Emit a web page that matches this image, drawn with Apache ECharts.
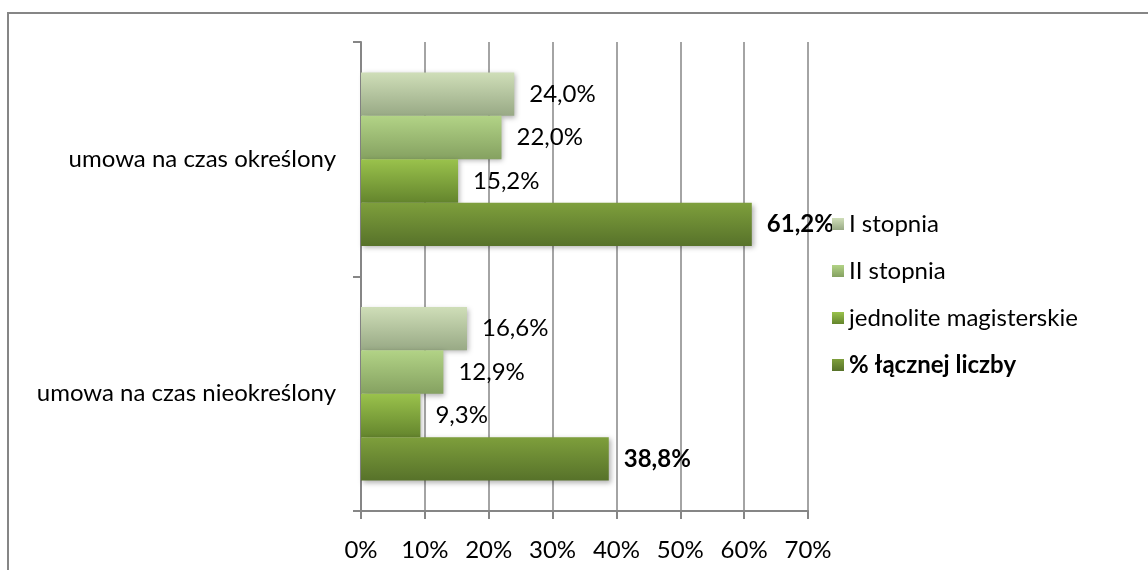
<!DOCTYPE html>
<html><head><meta charset="utf-8">
<script src="https://cdn.jsdelivr.net/npm/echarts@6/dist/echarts.min.js"></script>
<style>html,body{margin:0;padding:0;background:#fff}#c{width:1148px;height:570px}</style>
</head><body><div id="c"></div>
<script>
const categories = ['umowa na czas określony', 'umowa na czas nieokreślony'];
const seriesNames = ['I stopnia', 'II stopnia', 'jednolite magisterskie', '% łącznej liczby'];
const iStopnia = [24.0, 16.6];
const iiStopnia = [22.0, 12.9];
const jednolite = [15.2, 9.3];
const lacznie = [61.2, 38.8];
const xTicks = [0, 10, 20, 30, 40, 50, 60, 70];

const values = [iStopnia, iiStopnia, jednolite, lacznie];
const grads = [
  ['#cfdeb8', '#98a985'],
  ['#b2d386', '#85a161'],
  ['#9ac24c', '#64852d'],
  ['#7e9f3c', '#57722a']
];
const FONT = 'Lato';
const FS = 24;
const chart = echarts.init(document.getElementById('c'));
chart.setOption({
  animation: false,
  textStyle: {fontFamily: FONT},
  graphic: [{type: 'rect', shape: {x: 8, y: 13, width: 1200, height: 600}, style: {fill: 'none', stroke: '#868686', lineWidth: 2}, silent: true}],
  grid: {left: 361, right: 340, top: 42, bottom: 59},
  legend: {
    orient: 'vertical', left: 832, top: 212, padding: 0, itemGap: 23, itemWidth: 12, itemHeight: 12,
    icon: 'rect',
    data: seriesNames,
    textStyle: {fontSize: FS, lineHeight: 24, color: '#000', fontFamily: FONT,
      rich: {b: {fontWeight: 'bold', fontSize: FS, lineHeight: 24, fontFamily: FONT}}},
    formatter: n => n === '% łącznej liczby' ? '{b|' + n + '}' : n
  },
  xAxis: {
    type: 'value', min: 0, max: 70, interval: 10,
    axisLine: {show: true, lineStyle: {color: '#868686', width: 2}},
    axisTick: {show: true, length: 8, lineStyle: {color: '#868686', width: 2}},
    splitLine: {show: true, lineStyle: {color: '#868686', width: 1.5}},
    axisLabel: {fontSize: FS, color: '#000', margin: 27, formatter: v => v + '%', fontFamily: FONT}
  },
  yAxis: {
    type: 'category', data: categories, inverse: true,
    axisLine: {lineStyle: {color: '#868686', width: 2}},
    axisTick: {show: true, length: 8, lineStyle: {color: '#868686', width: 2}},
    axisLabel: {fontSize: FS, color: '#000', margin: 25, fontFamily: FONT}
  },
  series: seriesNames.map((name, i) => ({
    name, type: 'bar', data: values[i],
    barGap: '0%', barCategoryGap: '26%',
    itemStyle: {
      color: new echarts.graphic.LinearGradient(0, 0, 0, 1, [{offset: 0, color: grads[i][0]}, {offset: 1, color: grads[i][1]}]),
      shadowColor: 'rgba(0,0,0,0.3)', shadowBlur: 5, shadowOffsetX: 2, shadowOffsetY: 2
    },
    label: {
      show: true, position: 'right', distance: 15, fontSize: FS, color: '#000', fontFamily: FONT,
      fontWeight: i === 3 ? 'bold' : 'normal',
      formatter: p => p.value.toFixed(1).replace('.', ',') + '%'
    }
  }))
});
</script></body></html>
